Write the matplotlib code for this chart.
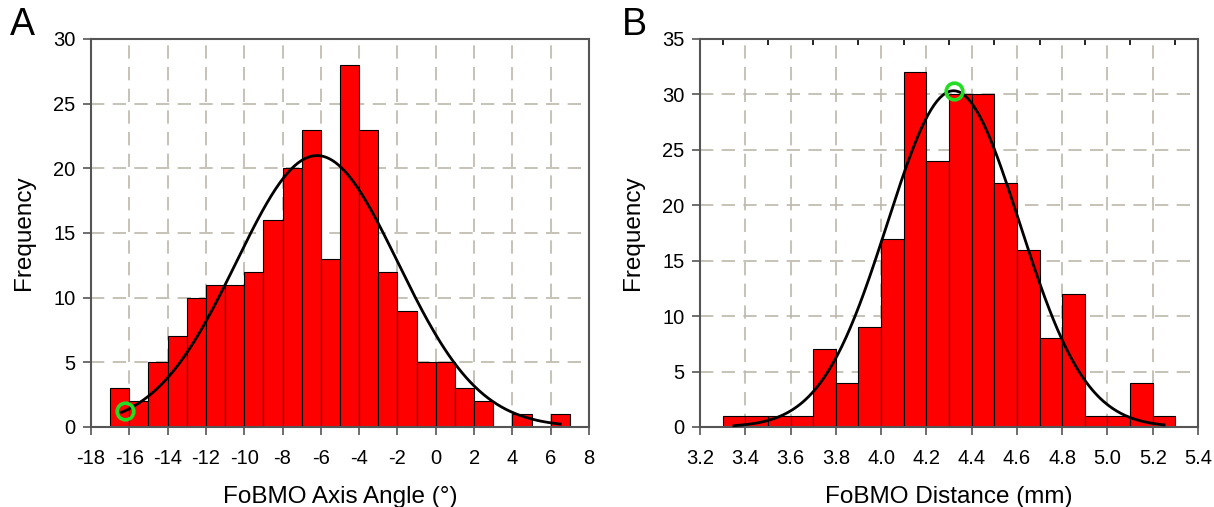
import numpy as np
import matplotlib.pyplot as plt

plt.rcParams['font.family'] = ['Liberation Sans', 'DejaVu Sans']

# panel A: axis angle histogram (bins of 1 deg from -17 to 7)
angle_edges = np.arange(-17, 8, 1)
angle_counts = [3, 2, 5, 7, 10, 11, 11, 12, 16, 20, 23, 13,
                28, 23, 12, 9, 5, 5, 3, 2, 0, 1, 0, 1]
angle_fit = dict(mu=-6.2, sd=4.22, x0=-16.4, x1=6.5)
angle_mark = (-16.25, 1.25)

# panel B: distance histogram (bins of 0.1 mm from 3.3 to 5.3)
dist_edges = np.round(np.arange(3.3, 5.31, 0.1), 2)
dist_counts = [1, 1, 1, 1, 7, 4, 9, 17, 32, 24, 30, 30,
               22, 16, 8, 12, 1, 1, 4, 1]
dist_fit = dict(mu=4.32, sd=0.292, x0=3.35, x1=5.25)
dist_mark = (4.32, 30.3)

GRID = '#bcb8ac'
SPINE = '#555555'


def normal_curve(fit, n, width):
    x = np.linspace(fit['x0'], fit['x1'], 300)
    y = n * width / (fit['sd'] * np.sqrt(2 * np.pi)) * \
        np.exp(-0.5 * ((x - fit['mu']) / fit['sd']) ** 2)
    return x, y


def draw_panel(ax, edges, counts, fit, mark, xlim, xticks, ylim, yticks,
               xlabel, fmt):
    edges = np.asarray(edges, dtype=float)
    w = edges[1] - edges[0]
    ax.bar(edges[:-1], counts, width=w, align='edge', color='#ff0000',
           edgecolor='black', linewidth=0.8, zorder=2)
    x, y = normal_curve(fit, sum(counts), w)
    ax.plot(x, y, color='black', lw=2, zorder=3)
    ax.plot(*mark, 'o', ms=12, mfc='none', mec='#22dd22', mew=2.6, zorder=4)

    ax.set_xlim(*xlim)
    ax.set_ylim(*ylim)
    ax.set_xticks(xticks)
    ax.set_xticklabels([fmt.format(t) for t in xticks])
    ax.set_yticks(yticks)
    ax.grid(True, color=GRID, linestyle=(0, (8, 5)), linewidth=1.2, zorder=0)
    ax.set_axisbelow(True)
    for s in ax.spines.values():
        s.set_color(SPINE)
        s.set_linewidth(1.5)
    ax.tick_params(direction='out', length=6, width=1.2, color=SPINE,
                   labelsize=14.5)
    ax.tick_params(axis='x', pad=10)
    ax.tick_params(axis='y', pad=5)
    ax.set_xlabel(xlabel, fontsize=17.5, labelpad=13)
    ax.set_ylabel('Frequency', fontsize=17.5, labelpad=13)


fig = plt.figure(figsize=(12.14, 5.07), dpi=100)
axA = fig.add_axes([91 / 1214, 1 - 427 / 507, 498 / 1214, 388 / 507])
axB = fig.add_axes([700 / 1214, 1 - 427 / 507, 498 / 1214, 388 / 507])

draw_panel(axA, angle_edges, angle_counts, angle_fit, angle_mark,
           (-18, 8), np.arange(-18, 9, 2), (0, 30), np.arange(0, 31, 5),
           'FoBMO Axis Angle (°)', '{:d}')
draw_panel(axB, dist_edges, dist_counts, dist_fit, dist_mark,
           (3.2, 5.4), np.round(np.arange(3.2, 5.41, 0.2), 1), (0, 35),
           np.arange(0, 36, 5), 'FoBMO Distance (mm)', '{:.1f}')

top = axB.secondary_xaxis('top')
top.set_xticks(np.round(np.arange(3.3, 5.31, 0.2), 1))
top.set_xticklabels([])
top.tick_params(direction='in', length=4, width=1.2, color='black')
top.spines['top'].set_visible(False)

fig.text(10 / 1214, 1 - 25 / 507, 'A', fontsize=27, va='center')
fig.text(622 / 1214, 1 - 25 / 507, 'B', fontsize=27, va='center')

fig.savefig('out.png', dpi=100)
